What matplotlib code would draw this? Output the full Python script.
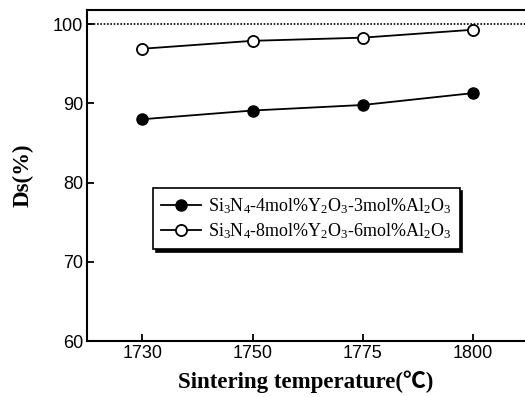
import numpy as np
import matplotlib
matplotlib.use('Agg')
from matplotlib import pyplot as plt

# data
temps = ['1730', '1750', '1775', '1800']
ds_4y3al = [88.0, 89.1, 89.8, 91.3]
ds_8y6al = [96.9, 97.9, 98.3, 99.3]
label_4y3al = r'Si$_3$N$_4$-4mol%Y$_2$O$_3$-3mol%Al$_2$O$_3$'
label_8y6al = r'Si$_3$N$_4$-8mol%Y$_2$O$_3$-6mol%Al$_2$O$_3$'

plt.rcParams['mathtext.fontset'] = 'custom'
plt.rcParams['mathtext.rm'] = 'Liberation Serif'
plt.rcParams['mathtext.it'] = 'Liberation Serif:italic'

fig = plt.figure(figsize=(5.25, 3.97), dpi=100)
ax = fig.add_axes([0.166, 0.141, 0.834, 0.834])

x = np.arange(len(temps))
ax.axhline(100, color='black', lw=1.2, ls=(0, (1, 1)))
ax.plot(x, ds_4y3al, '-o', color='black', mfc='black', ms=8, lw=1.3, label=label_4y3al)
ax.plot(x, ds_8y6al, '-o', color='black', mfc='white', ms=8, lw=1.3, mew=1.3, label=label_8y6al)

ax.set_xlim(-0.5, 3.47)
ax.set_ylim(60, 101.8)
ax.set_xticks(x)
ax.set_xticklabels(temps)
ax.set_yticks([60, 70, 80, 90, 100])
ax.tick_params(direction='in', length=5, width=1.3, labelsize=13, pad=3)
for lb in ax.get_xticklabels() + ax.get_yticklabels():
    lb.set_family('Liberation Sans')
for s in ax.spines.values():
    s.set_linewidth(1.5)
ax.spines['right'].set_visible(False)

ax.set_ylabel('Ds(%)', family='Liberation Serif', fontweight='bold', fontsize=16.5, labelpad=14)
ax.set_xlabel('Sintering temperature(\u2103)', family=['Liberation Serif', 'Noto Sans CJK SC'],
              fontweight='bold', fontsize=16.5, labelpad=6)

leg = ax.legend(loc='upper left', bbox_to_anchor=(0.15, 0.462), borderaxespad=0, fancybox=False,
                shadow={'color': 'black', 'alpha': 1}, edgecolor='black',
                prop={'family': 'Liberation Serif', 'size': 13},
                handlelength=2.2, borderpad=0.45, labelspacing=0.3, handletextpad=0.4)
leg.get_frame().set_linewidth(1.2)

fig.savefig('out.png', dpi=100)
